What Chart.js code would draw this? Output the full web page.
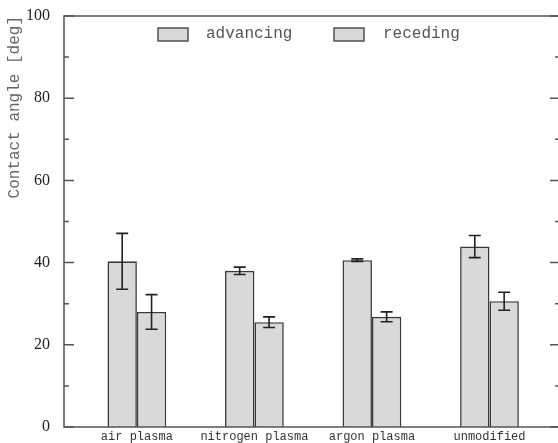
<!DOCTYPE html>
<html>
<head>
<meta charset="utf-8">
<script src="https://cdn.jsdelivr.net/npm/chart.js@4"></script>
<style>
  html, body { margin: 0; padding: 0; background: #fff; overflow: hidden; }
  #wrap { width: 562px; height: 443px; }
</style>
</head>
<body>
<div id="wrap"><canvas id="angleChart" width="562" height="443"></canvas></div>
<script>
const categories = ["air plasma", "nitrogen plasma", "argon plasma", "unmodified"];
const advancing = [40.3, 38.0, 40.6, 43.9];
const advancingErr = [6.8, 0.9, 0.3, 2.7];
const receding = [28.0, 25.5, 26.8, 30.6];
const recedingErr = [4.2, 1.3, 1.2, 2.2];
const yTicks = [0, 20, 40, 60, 80, 100];

const ink = "#3a3a3a";
const fill = "#d9d9d9";

function toPoints(vals){
  return vals.map((v, i) => ({ x: i + 1, y: v }));
}

// error bars drawn from the scales
const errorBars = {
  id: "errorBars",
  afterDatasetsDraw(chart){
    const ctx = chart.ctx, ys = chart.scales.y;
    const errs = [advancingErr, recedingErr];
    ctx.save();
    ctx.strokeStyle = "#222";
    ctx.lineWidth = 1.6;
    chart.data.datasets.forEach((ds, d) => {
      chart.getDatasetMeta(d).data.forEach((bar, i) => {
        const v = ds.data[i].y, e = errs[d][i];
        const y1 = ys.getPixelForValue(v + e), y2 = ys.getPixelForValue(v - e);
        ctx.beginPath();
        ctx.moveTo(bar.x, y1); ctx.lineTo(bar.x, y2);
        ctx.moveTo(bar.x - 6, y1); ctx.lineTo(bar.x + 6, y1);
        ctx.moveTo(bar.x - 6, y2); ctx.lineTo(bar.x + 6, y2);
        ctx.stroke();
      });
    });
    ctx.restore();
  }
};

// frame, inward ticks and legend
const frame = {
  id: "frame",
  afterDraw(chart){
    const ctx = chart.ctx, a = chart.chartArea, ys = chart.scales.y;
    ctx.save();
    ctx.strokeStyle = "#555";
    ctx.lineWidth = 1.5;
    ctx.strokeRect(a.left, a.top, a.right - a.left, a.bottom - a.top);
    ctx.beginPath();
    for (let v = 0; v <= 100; v += 10){
      const y = ys.getPixelForValue(v);
      const len = v % 20 === 0 ? 10 : 5;
      ctx.moveTo(a.left, y); ctx.lineTo(a.left + len, y);
      ctx.moveTo(a.right, y); ctx.lineTo(a.right - len, y);
    }
    ctx.stroke();

    // legend
    const items = [{ x: 158, tx: 206 }, { x: 334, tx: 383 }];
    ctx.font = "16px 'Liberation Mono'";
    ctx.textBaseline = "middle";
    chart.data.datasets.forEach((ds, i) => {
      const it = items[i];
      ctx.fillStyle = ds.backgroundColor;
      ctx.fillRect(it.x, 28, 30, 13);
      ctx.strokeStyle = ink;
      ctx.lineWidth = 1.3;
      ctx.strokeRect(it.x, 28, 30, 13);
      ctx.fillStyle = "#555";
      ctx.fillText(ds.label, it.tx, 34);
    });
    ctx.restore();
  }
};

new Chart(document.getElementById("angleChart"), {
  type: "bar",
  data: {
    datasets: [
      { label: "advancing", data: toPoints(advancing), backgroundColor: fill, borderColor: ink, borderWidth: 1.6 },
      { label: "receding", data: toPoints(receding), backgroundColor: fill, borderColor: ink, borderWidth: 1.6 }
    ]
  },
  options: {
    responsive: false,
    animation: false,
    categoryPercentage: 0.5,
    barPercentage: 1,
    layout: { padding: { top: 16, right: 2, left: 0, bottom: 0 } },
    plugins: { legend: { display: false }, tooltip: { enabled: false } },
    scales: {
      x: {
        type: "linear",
        min: 0.38,
        max: 4.6,
        offset: false,
        grid: { display: false },
        border: { display: false },
        afterBuildTicks: (s) => { s.ticks = categories.map((c, i) => ({ value: i + 1 })); },
        afterFit: (s) => { s.height = 16; },
        ticks: {
          autoSkip: false,
          maxRotation: 0,
          padding: -5,
          color: "#333",
          font: { family: "'Liberation Mono'", size: 12 },
          callback: (v) => categories[v - 1]
        }
      },
      y: {
        min: 0,
        max: 100,
        grid: { display: false },
        border: { display: false },
        afterBuildTicks: (s) => { s.ticks = yTicks.map(v => ({ value: v })); },
        afterFit: (s) => { s.width = 64; },
        ticks: {
          padding: 6,
          color: "#222",
          font: { family: "'Liberation Serif'", size: 16 }
        },
        title: {
          display: true,
          text: "Contact angle [deg]",
          align: "end",
          color: "#666",
          padding: { top: 5, bottom: 0 },
          font: { family: "'Liberation Mono'", size: 16 }
        }
      }
    }
  },
  plugins: [errorBars, frame]
});
</script>
</body>
</html>
